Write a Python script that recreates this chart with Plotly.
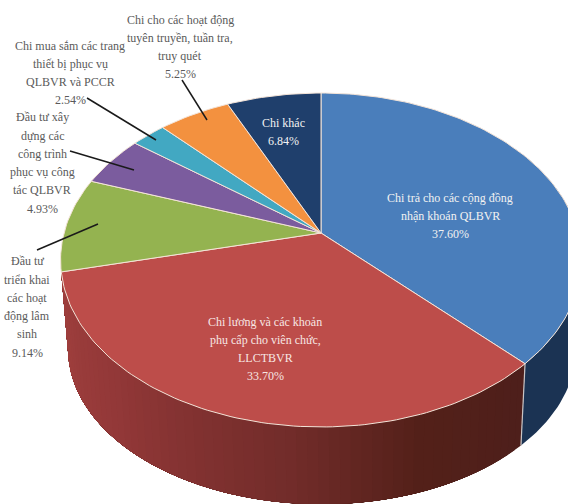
import numpy as np
import plotly.graph_objects as go

# Budget shares, clockwise from 12 o'clock
categories = [
    "Chi trả cho các cộng đồng nhận khoán QLBVR",
    "Chi lương và các khoản phụ cấp cho viên chức, LLCTBVR",
    "Đầu tư triển khai các hoạt động lâm sinh",
    "Đầu tư xây dựng các công trình phục vụ công tác QLBVR",
    "Chi mua sắm các trang thiết bị phục vụ QLBVR và PCCR",
    "Chi cho các hoạt động tuyên truyền, tuần tra, truy quét",
    "Chi khác",
]
shares = [37.60, 33.70, 9.14, 4.93, 2.54, 5.25, 6.84]
label_lines = [
    ["Chi trả cho các cộng đồng", "nhận khoán QLBVR"],
    ["Chi lương và các khoản", "phụ cấp cho viên chức,", "LLCTBVR"],
    ["Đầu tư", "triển khai", "các hoạt", "động lâm", "sinh"],
    ["Đầu tư xây", "dựng các", "công trình", "phục vụ công", "tác QLBVR"],
    ["Chi mua sắm các trang", "thiết bị phục vụ", "QLBVR và PCCR"],
    ["Chi cho các hoạt động", "tuyên truyền, tuần tra,", "truy quét"],
    ["Chi khác"],
]
colors = ["#4a7ebb", "#bd4d4a", "#94b350", "#7b5c9e", "#42a8c2", "#f3913f", "#1f3f6c"]

# Label anchors (centre x, centre y) and text colours
label_pos = [(450, 216), (265, 349), (27, 307), (42, 163), (70, 73), (180, 47), (283, 132)]
label_ink = ["#f2f2f2", "#f7e6e4", "#5a5a5a", "#5a5a5a", "#5a5a5a", "#5a5a5a", "#f2f2f2"]
leaders = [
    ((37, 250), (98, 224)),
    ((70, 151), (134, 170)),
    ((87, 98), (156, 140)),
    ((182, 80), (207, 120)),
]

W, H = 568, 504
CX, CY = 321.0, 233.0
PERSP = 0.1617
RX, RY = 257.0, 162.6
SEAM = "#f4e4d8"
LINE_STEP = 18.3


def rim(theta):
    """Perspective projection of the tilted disc; theta in radians, clockwise from top."""
    d = 1 + PERSP * np.cos(theta)
    return CX + RX * np.sin(theta) / d, CY - RY * np.cos(theta) / d


def base(theta):
    """Lower edge of the disc's side wall."""
    x, y = rim(theta)
    return 322 + (x - CX) * 0.975, 349 + (y - 260) * 0.93


def lerp_hex(stops, t):
    ts = [s[0] for s in stops]
    rgb = [np.interp(t, ts, [int(s[1][i:i + 2], 16) for s in stops]) for i in (1, 3, 5)]
    return "rgb(%d,%d,%d)" % tuple(int(round(v)) for v in rgb)


cuts = np.radians(np.concatenate([[0], np.cumsum(shares)]) * 3.6)
fig = go.Figure()

# Side wall: the navy slice on the right, then the shaded red slice
t_blue = np.linspace(np.radians(55), cuts[1], 60)
bx0, by0 = rim(t_blue)
bx1, by1 = base(t_blue)
fig.add_trace(go.Scatter(
    x=np.r_[bx0, bx1[::-1]], y=np.r_[by0, by1[::-1]], mode="lines", fill="toself",
    fillcolor="#1b3353", line=dict(width=0), hoverinfo="skip", showlegend=False))

# Each band runs on under the next one so no hairline shows between them
wall_stops = [(135, "#4e1f1b"), (160, "#532019"), (185, "#722c2a"), (225, "#933838"), (257, "#a0403e")]
edges = np.linspace(cuts[1], cuts[2], 60)
for a, b in zip(edges[:-1], edges[1:]):
    ts = np.linspace(a, cuts[2], 30)
    x0, y0 = rim(ts)
    x1, y1 = base(ts)
    shade = lerp_hex(wall_stops, np.degrees(a))
    fig.add_trace(go.Scatter(
        x=np.r_[x0, x1[::-1]], y=np.r_[y0, y1[::-1]],
        mode="lines", fill="toself", fillcolor=shade, line=dict(width=0),
        hoverinfo="skip", showlegend=False))

# Seam where the red and navy walls meet
sx0, sy0 = rim(cuts[1])
sx1, sy1 = base(cuts[1])
fig.add_trace(go.Scatter(x=[sx0, sx1], y=[sy0, sy1], mode="lines",
                         line=dict(color="#c9c4c4", width=1.2), hoverinfo="skip", showlegend=False))

# Top face, one wedge per category
for name, share, col, a, b in zip(categories, shares, colors, cuts[:-1], cuts[1:]):
    ts = np.linspace(a, b, max(8, int(share * 3)))
    x, y = rim(ts)
    fig.add_trace(go.Scatter(
        x=np.r_[CX, x, CX], y=np.r_[CY, y, CY], mode="lines", fill="toself", fillcolor=col,
        line=dict(color=SEAM, width=1.0), name=name, text=f"{share:.2f}%",
        hoverinfo="name+text", showlegend=False))

# Leader lines from the outside labels to their wedges
for (x0, y0), (x1, y1) in leaders:
    fig.add_trace(go.Scatter(x=[x0, x1], y=[y0, y1], mode="lines",
                             line=dict(color="#1a1a1a", width=1.5), hoverinfo="skip", showlegend=False))

# Labels are placed line by line to keep their open leading
annotations = []
for lines, share, (x, y), ink in zip(label_lines, shares, label_pos, label_ink):
    rows = lines + [f"{share:.2f}%"]
    top = y - LINE_STEP * (len(rows) - 1) / 2
    for i, row in enumerate(rows):
        annotations.append(dict(
            x=x, y=top + i * LINE_STEP, xref="x", yref="y", showarrow=False,
            xanchor="center", yanchor="middle", text=row,
            font=dict(family="Liberation Serif", size=12, color=ink)))

fig.update_layout(
    width=W, height=H, margin=dict(l=0, r=0, t=0, b=0),
    paper_bgcolor="white", plot_bgcolor="white", showlegend=False,
    xaxis=dict(range=[0, W], visible=False, fixedrange=True),
    yaxis=dict(range=[H, 0], visible=False, fixedrange=True),
    annotations=annotations,
)

fig.write_html("out.html", config={"displayModeBar": False})
